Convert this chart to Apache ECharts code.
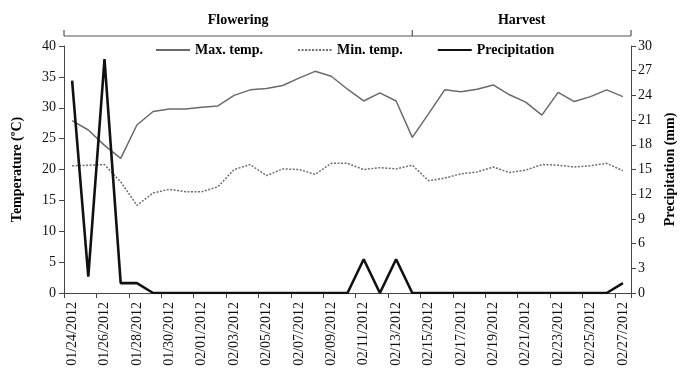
<!DOCTYPE html>
<html>
<head>
<meta charset="utf-8">
<script src="https://cdn.jsdelivr.net/npm/echarts@6/dist/echarts.min.js"></script>
<style>
  html, body { margin: 0; padding: 0; background: #fff; }
  #chart { width: 680px; height: 372px; }
</style>
</head>
<body>
<div id="chart"></div>
<script>
// Daily dates of the observation period
const dates = [
  '01/24/2012','01/25/2012','01/26/2012','01/27/2012','01/28/2012','01/29/2012','01/30/2012','01/31/2012',
  '02/01/2012','02/02/2012','02/03/2012','02/04/2012','02/05/2012','02/06/2012','02/07/2012','02/08/2012',
  '02/09/2012','02/10/2012','02/11/2012','02/12/2012','02/13/2012','02/14/2012','02/15/2012','02/16/2012',
  '02/17/2012','02/18/2012','02/19/2012','02/20/2012','02/21/2012','02/22/2012','02/23/2012','02/24/2012',
  '02/25/2012','02/26/2012','02/27/2012'
];

// Daily maximum temperature (°C)
const maxTemp = [
  27.9, 26.4, 23.9, 21.8, 27.2, 29.4, 29.8, 29.8,
  30.1, 30.3, 32.0, 32.9, 33.1, 33.6, 34.8, 35.9,
  35.1, 33.0, 31.1, 32.4, 31.1, 25.2, 29.0, 32.9,
  32.6, 33.0, 33.7, 32.1, 30.9, 28.8, 32.5, 31.0,
  31.8, 32.9, 31.8
];

// Daily minimum temperature (°C)
const minTemp = [
  20.6, 20.7, 20.8, 18.0, 14.2, 16.2, 16.8, 16.4,
  16.4, 17.2, 20.0, 20.8, 19.0, 20.1, 20.0, 19.2,
  21.0, 21.0, 20.0, 20.3, 20.1, 20.7, 18.2, 18.6,
  19.3, 19.6, 20.4, 19.5, 19.9, 20.8, 20.7, 20.4,
  20.6, 21.0, 19.8
];

// Daily precipitation (mm)
const precipitation = [
  25.8, 2.0, 28.4, 1.2, 1.2, 0, 0, 0,
  0, 0, 0, 0, 0, 0, 0, 0,
  0, 0, 4.1, 0, 4.1, 0, 0, 0,
  0, 0, 0, 0, 0, 0, 0, 0,
  0, 0, 1.2
];

// Crop stages shown above the plot; each stage begins on the given date
const stageNames = ['Flowering', 'Harvest'];
const stageStarts = ['01/24/2012', '02/14/2012'];

const serif = "'Liberation Serif', 'Times New Roman', serif";
const W = 680;
const gridLeft = 64, gridRight = 49, gridTop = 46, gridBottom = 79;

const chart = echarts.init(document.getElementById('chart'), null, { renderer: 'canvas' });

const axisLineStyle = { color: '#444', width: 1 };

chart.setOption({
  animation: false,
  backgroundColor: '#fff',
  textStyle: { fontFamily: serif, color: '#000' },
  grid: {
    left: gridLeft, right: gridRight, top: gridTop, bottom: gridBottom,
    containLabel: false, outerBoundsMode: 'none'
  },
  legend: {
    left: 150, top: 38,
    itemWidth: 34, itemHeight: 14, itemGap: 34,
    itemStyle: { opacity: 0 },
    textStyle: { fontFamily: serif, fontWeight: 'bold', fontSize: 14, color: '#000' },
    data: ['Max. temp.', 'Min. temp.', 'Precipitation']
  },
  xAxis: {
    type: 'category',
    data: dates,
    boundaryGap: true,
    axisLine: { lineStyle: axisLineStyle },
    axisTick: { show: true, interval: 1, length: 5, lineStyle: axisLineStyle },
    axisLabel: {
      interval: 1, rotate: 90, margin: 9,
      fontFamily: serif, fontSize: 14, color: '#111'
    },
    splitLine: { show: false }
  },
  yAxis: [
    {
      type: 'value', min: 0, max: 40, interval: 5, position: 'left',
      name: 'Temperature (ºC)', nameLocation: 'middle', nameRotate: 90, nameGap: 40,
      nameTextStyle: { fontFamily: serif, fontWeight: 'bold', fontSize: 14, color: '#000' },
      axisLine: { show: true, lineStyle: axisLineStyle },
      axisTick: { show: true, length: 5, lineStyle: axisLineStyle },
      axisLabel: { fontFamily: serif, fontSize: 14, color: '#111', margin: 8 },
      splitLine: { show: false }
    },
    {
      type: 'value', min: 0, max: 30, interval: 3, position: 'right',
      name: 'Precipitation (mm)', nameLocation: 'middle', nameRotate: 90, nameGap: 30,
      nameTextStyle: { fontFamily: serif, fontWeight: 'bold', fontSize: 14, color: '#000' },
      axisLine: { show: true, lineStyle: axisLineStyle },
      axisTick: { show: true, length: 5, lineStyle: axisLineStyle },
      axisLabel: { fontFamily: serif, fontSize: 14, color: '#111', margin: 7 },
      splitLine: { show: false }
    }
  ],
  series: [
    {
      name: 'Max. temp.', type: 'line', yAxisIndex: 0, data: maxTemp,
      symbol: 'none', lineStyle: { color: '#6a6a6a', width: 1.5 },
      itemStyle: { color: '#6a6a6a' }
    },
    {
      name: 'Min. temp.', type: 'line', yAxisIndex: 0, data: minTemp,
      symbol: 'none', lineStyle: { color: '#6f6f6f', width: 1.5, type: [2, 1.5] },
      itemStyle: { color: '#6f6f6f' }
    },
    {
      name: 'Precipitation', type: 'line', yAxisIndex: 1, data: precipitation,
      symbol: 'none', lineStyle: { color: '#111', width: 2.6 },
      itemStyle: { color: '#111' }
    }
  ]
});

// Stage bracket above the plot area
const plotLeft = gridLeft, plotRight = W - gridRight;
const edges = stageStarts.map((d, i) => i === 0 ? plotLeft : chart.convertToPixel({ xAxisIndex: 0 }, d));
edges.push(plotRight);
const bracketY = 36, bracketTop = 30, lineColor = '#555';
const graphics = [
  { type: 'line', shape: { x1: plotLeft, y1: bracketY, x2: plotRight, y2: bracketY }, style: { stroke: lineColor, lineWidth: 1.2 } }
];
edges.forEach(x => {
  graphics.push({ type: 'line', shape: { x1: x, y1: bracketY, x2: x, y2: bracketTop }, style: { stroke: lineColor, lineWidth: 1.2 } });
});
stageNames.forEach((name, i) => {
  graphics.push({
    type: 'text', x: (edges[i] + edges[i + 1]) / 2, y: 20,
    style: { text: name, fontFamily: serif, fontWeight: 'bold', fontSize: 14, fill: '#000', align: 'center', verticalAlign: 'middle' }
  });
});
chart.setOption({ graphic: graphics });
</script>
</body>
</html>
